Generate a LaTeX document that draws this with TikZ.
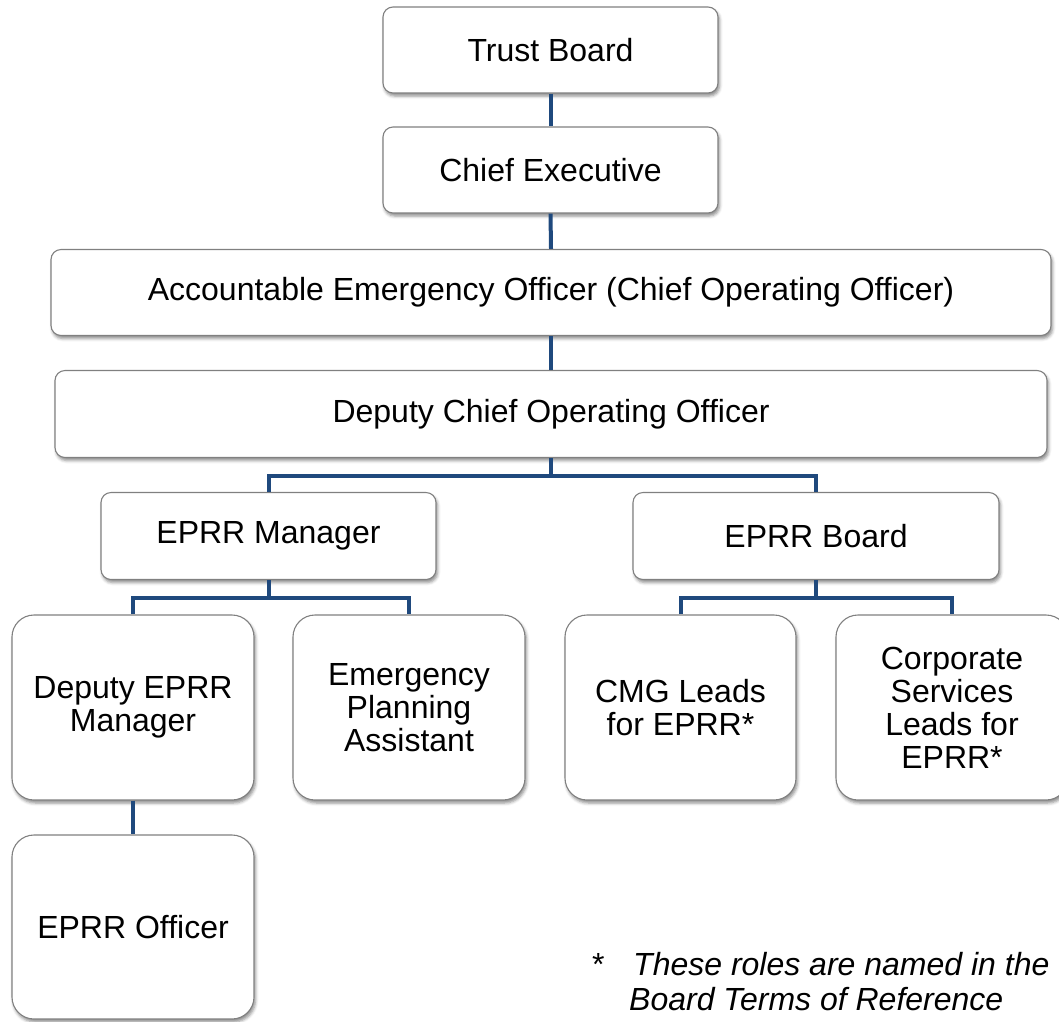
\documentclass[tikz,border=0pt]{standalone}
\usepackage{fontspec}
\setmainfont{Liberation Sans}
\usetikzlibrary{shadows.blur}
\definecolor{linkblue}{RGB}{31,73,125}
\definecolor{boxedge}{RGB}{128,128,128}
\begin{document}
\begin{tikzpicture}[x=1pt,y=-1pt,
  role/.style={draw=boxedge, line width=1.1pt, fill=white, inner sep=0pt,
    align=center, font=\fontsize{32}{33}\selectfont,
    blur shadow={shadow xshift=1.5pt, shadow yshift=-3pt, shadow blur radius=3pt, shadow opacity=45}},
  widebox/.style={role, rounded corners=10pt, minimum height=86pt},
  tallbox/.style={role, rounded corners=22pt, minimum height=185pt},
  link/.style={draw=linkblue, line width=4pt},
  note/.style={inner sep=0pt, anchor=base west, font=\fontsize{32}{33}\selectfont}]
\useasboundingbox (0,0) rectangle (1059,1021);

% top chain
\node[widebox, minimum width=335pt] (tb) at (550.5,50) {Trust Board};
\node[widebox, minimum width=335pt] (ce) at (550.5,170) {Chief Executive};
\node[widebox, minimum width=1000pt] (aeo) at (551,292.5) {Accountable Emergency Officer (Chief Operating Officer)};
\node[widebox, minimum width=992pt, minimum height=87pt] (dcoo) at (551,414) {Deputy Chief Operating Officer};

% second level
\node[widebox, minimum width=335pt, minimum height=87pt] (mgr) at (268.5,536) {EPRR Manager};
\node[widebox, minimum width=366pt, minimum height=87pt] (brd) at (816,536) {EPRR Board};

% third level
\node[tallbox, minimum width=242pt] (dep) at (133,707.5) {Deputy EPRR\\Manager};
\node[tallbox, minimum width=232pt] (epa) at (409,707.5) {Emergency\\Planning\\Assistant};
\node[tallbox, minimum width=231pt] (cmg) at (680.5,707.5) {CMG Leads\\for EPRR*};
\node[tallbox, minimum width=232pt] (csl) at (952,707.5) {Corporate\\Services\\Leads for\\EPRR*};

% fourth level
\node[tallbox, minimum width=242pt, minimum height=184pt] (off) at (133,927) {EPRR Officer};

% junction points of the branching connectors
\coordinate (j1) at (551,476);
\coordinate (j2) at (268.5,598);
\coordinate (j3) at (816,598);

% connectors
\draw[link] (tb.south) -- (ce.north);
\draw[link] (ce.south) -- (aeo.north);
\draw[link] (aeo.south) -- (dcoo.north);
\draw[link] (dcoo.south) -- (j1);
\draw[link] (mgr.north) |- (j1) -| (brd.north);
\draw[link] (mgr.south) -- (j2);
\draw[link] (dep.north) |- (j2) -| (epa.north);
\draw[link] (brd.south) -- (j3);
\draw[link] (cmg.north) |- (j3) -| (csl.north);
\draw[link] (dep.south) -- (off.north);

% footnote
\node[note] (star) at (592,975) {*};
\node[note] (fn1) at (633,975) {\itshape These roles are named in the EPRR};
\node[note] (fn2) at (629,1010) {\itshape Board Terms of Reference};
\end{tikzpicture}
\end{document}
